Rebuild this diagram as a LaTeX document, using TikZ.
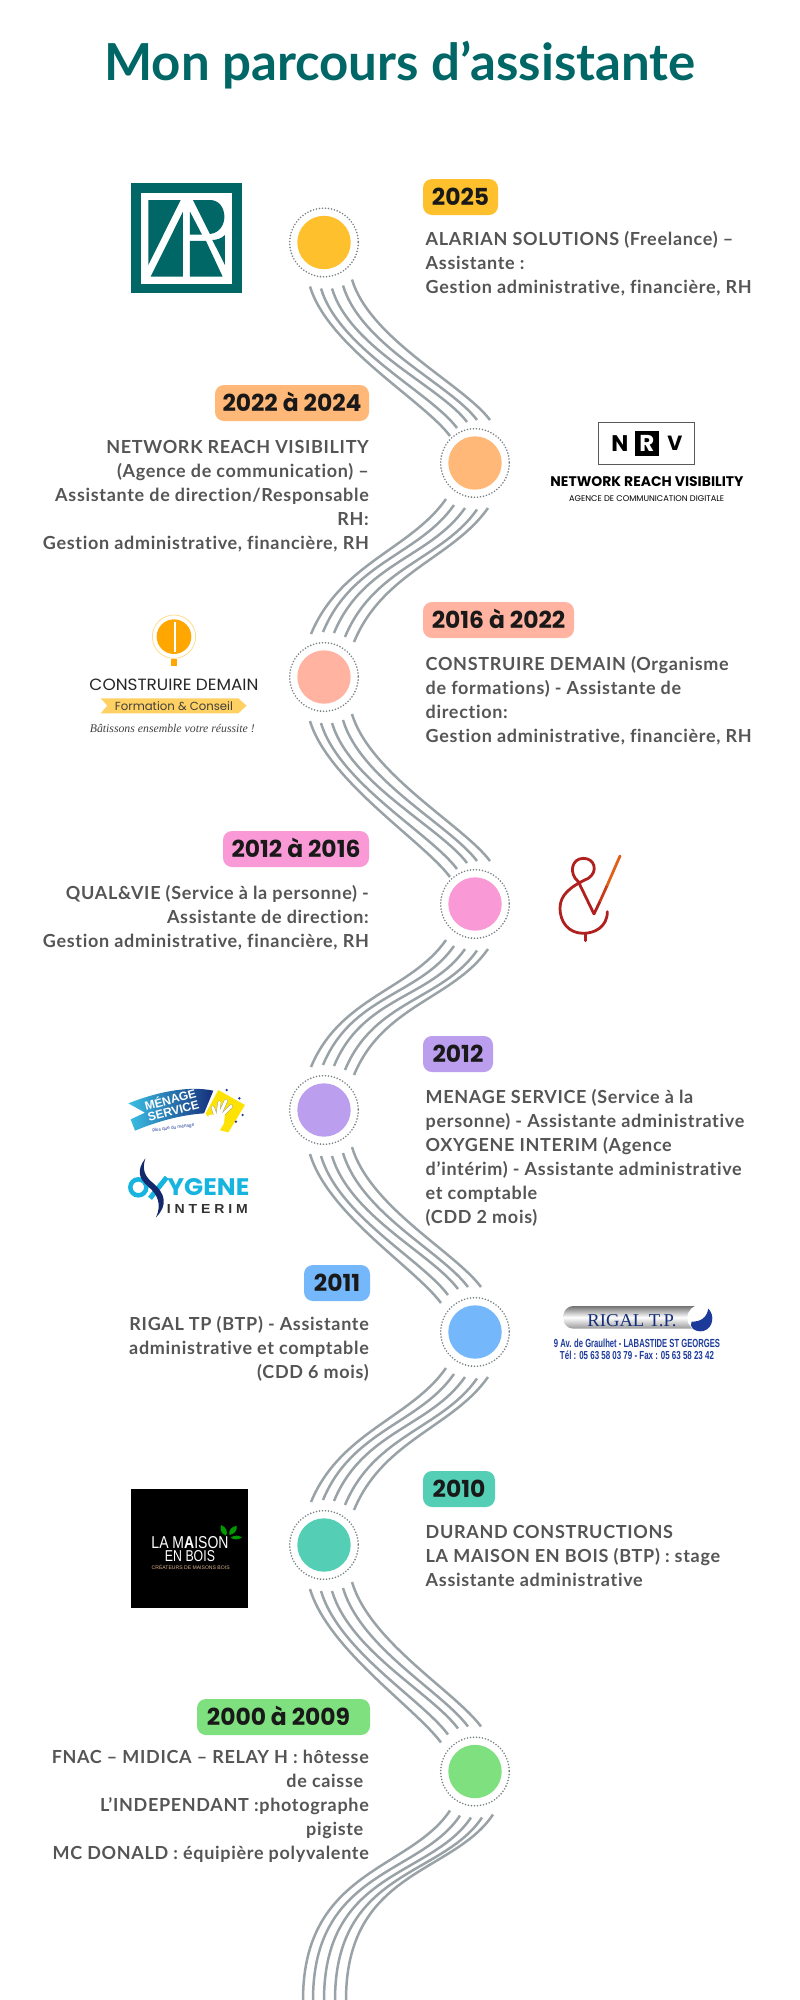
\documentclass[tikz,border=0pt]{standalone}
\usepackage{fontspec}
\usetikzlibrary{calc,shapes.geometric}
\setmainfont{Lato}
\newfontfamily\bodyf{Lato}[LetterSpace=3.8,Ligatures=CommonOff]
\newfontfamily\yearf{Poppins}
\newfontfamily\logof{Poppins}
\newfontfamily\sansf{Liberation Sans}
\newfontfamily\seriff{Liberation Serif}
\definecolor{teal1}{HTML}{006666}
\definecolor{bodyc}{HTML}{555555}
\definecolor{linec}{HTML}{99A2A7}
\definecolor{cA}{HTML}{FFC02E}
\definecolor{cB}{HTML}{FFB877}
\definecolor{cC}{HTML}{FFB3A0}
\definecolor{cD}{HTML}{F99AD6}
\definecolor{cE}{HTML}{BB9EEE}
\definecolor{cF}{HTML}{74B7FA}
\definecolor{cG}{HTML}{54CFB6}
\definecolor{cH}{HTML}{7FE07F}
\definecolor{navy}{HTML}{1C3A99}
\definecolor{cyanox}{HTML}{18B4E0}
\definecolor{redamp}{HTML}{B0201E}
\definecolor{midamp}{HTML}{C83C1C}
\definecolor{orgamp}{HTML}{E0601A}
\newcommand{\fitw}[2]{\resizebox{#1pt}{!}{#2}}
\newcommand{\fitwh}[3]{\resizebox{#1pt}{#2pt}{#3}}
\tikzset{
  wave/.style={draw=linec,line width=2.5pt},
  ring/.style={draw=linec!80!black,line width=1.8pt,dash pattern=on 0pt off 3.02pt,line cap=round},
  dot/.style={circle,inner sep=0pt,minimum size=53.4pt},
  pill/.style={rounded corners=9pt},
  yearlabel/.style={font=\yearf\bfseries\fontsize{23.4}{26}\selectfont,text=black!90,inner sep=0pt,anchor=base},
  bodyr/.style={font=\bodyf\bfseries\fontsize{18}{24}\selectfont,text=bodyc,inner sep=0pt,anchor=base east},
  bodyl/.style={font=\bodyf\bfseries\fontsize{18}{24}\selectfont,text=bodyc,inner sep=0pt,anchor=base west},
  logotext/.style={inner sep=0pt},
}
\begin{document}
\begin{tikzpicture}[x=1pt,y=-1pt]
\useasboundingbox (0,0) rectangle (800,2000);
% title
\node[font=\bfseries\fontsize{51}{60}\selectfont,text=teal1,inner sep=0pt,anchor=base] (title) at (400,80) {Mon parcours d’assistante};
% circles
\foreach \n/\cx/\cy/\col in {c1/324/242.5/cA,c2/475/463/cB,c3/324/677/cC,c4/475/904/cD,c5/324/1110/cE,c6/475/1332/cF,c7/324/1545/cG,c8/475/1771.5/cH}{
  \node[dot,fill=\col] (\n) at (\cx,\cy) {};
  \draw[ring] (\n.center) circle (34.3);
}
% waves down-right
\foreach \A/\B/\sh/\sv in {c1/c2/9/2,c3/c4/9/2,c5/c6/0/0,c7/c8/0/0}{
  \foreach \ax/\ay/\bx/\by in {-14/44/-34/-29,-3/46/-27/-37,8/46/-17/-43,19/43/-7/-45,28/37/6/-45}{
    \draw[wave] ($(\A)+(\ax,\ay)$) .. controls +(18,60) and +(-26,-35) .. ($(\B)+(\bx+\sh,\by+\sv)$);
  }
}
% waves down-left
\foreach \A/\B in {c2/c3,c4/c5,c6/c7}{
  \foreach \ax/\ay/\bx/\by in {-29/36/-13/-43,-21/42/-1/-45,-10/45/10/-44,2/46.5/21/-40,13/45/30/-35}{
    \draw[wave] ($(\A)+(\ax,\ay)$) .. controls +(-35,50) and +(29,-70) .. ($(\B)+(\bx,\by)$);
  }
}
% last wave, leaving the picture
\foreach \ax/\ay/\bx [count=\i] in {-25/39/303,-15/44/313,-4/46/324,7/46/335,18/43/346}{
  \coordinate (end\i) at (\bx,2000);
  \draw[wave] ($(c8)+(\ax,\ay)$) .. controls +(-40,60) and +(0,-130) .. (end\i);
}
% pills
\foreach \n/\xa/\ya/\xb/\yb/\col in {p1/423/179/498/215/cA,p2/215/385/369/421/cB,p3/423/602/574/638/cC,p4/223/831/369/867/cD,p5/423/1036/493/1072/cE,p6/304/1265/370/1301/cF,p7/423/1471/495/1507/cG,p8/197/1699/370/1735/cH}{
  \fill[pill,fill=\col] (\xa,\ya) rectangle (\xb,\yb);
}
\node[yearlabel] (y1) at (460.5,205) {2025};
\node[yearlabel] (y2) at (292,411) {2022 à 2024};
\node[yearlabel] (y3) at (498.5,628) {2016 à 2022};
\node[yearlabel] (y4) at (296,857) {2012 à 2016};
\node[yearlabel] (y5) at (458,1062) {2012};
\node[yearlabel] (y6) at (337,1291) {2011};
\node[yearlabel] (y7) at (459,1497) {2010};
\node[yearlabel] (y8) at (278.5,1725) {2000 à 2009};
% body texts
\node[bodyl] (t1) at (425.5,245) {\begin{tabular}[t]{@{}l@{}}ALARIAN SOLUTIONS (Freelance) –\\Assistante :\\Gestion administrative, financière, RH\end{tabular}};
\node[bodyr] (t2) at (369,453) {\begin{tabular}[t]{@{}r@{}}NETWORK REACH VISIBILITY\\(Agence de communication) –\\Assistante de direction/Responsable\\RH:\\Gestion administrative, financière, RH\end{tabular}};
\node[bodyl] (t3) at (425.5,670) {\begin{tabular}[t]{@{}l@{}}CONSTRUIRE DEMAIN (Organisme\\de formations) - Assistante de\\direction:\\Gestion administrative, financière, RH\end{tabular}};
\node[bodyr] (t4) at (369,899) {\begin{tabular}[t]{@{}r@{}}QUAL\&VIE (Service à la personne) -\\Assistante de direction:\\Gestion administrative, financière, RH\end{tabular}};
\node[bodyl] (t5) at (425.5,1103) {\begin{tabular}[t]{@{}l@{}}MENAGE SERVICE (Service à la\\personne) - Assistante administrative\\OXYGENE INTERIM (Agence\\d’intérim) - Assistante administrative\\et comptable\\(CDD 2 mois)\end{tabular}};
\node[bodyr] (t6) at (369,1330) {\begin{tabular}[t]{@{}r@{}}RIGAL TP (BTP) - Assistante\\administrative et comptable\\(CDD 6 mois)\end{tabular}};
\node[bodyl] (t7) at (425.5,1538) {\begin{tabular}[t]{@{}l@{}}DURAND CONSTRUCTIONS\\LA MAISON EN BOIS (BTP) : stage\\Assistante administrative\end{tabular}};
\node[bodyr] (t8) at (369,1763) {\begin{tabular}[t]{@{}r@{}}FNAC – MIDICA – RELAY H : hôtesse\\de caisse\hspace*{5.5pt}\\L’INDEPENDANT :photographe\\pigiste\hspace*{5.5pt}\\MC DONALD : équipière polyvalente\end{tabular}};
% ---- logo AR
\begin{scope}[shift={(100,160)},x=0.3333pt,y=-0.3333pt]
\fill[teal1] (94,68) rectangle (425,400);
\fill[white] (123,98) rectangle (396,371);
\fill[teal1] (145,120) -- (242,120) -- (145,315) -- cycle;
\fill[teal1] (152,350) -- (249,350) -- (249,155) -- cycle;
\fill[teal1] (270,350) -- (368,350) -- (318,243) -- (270,243) -- cycle;
\fill[teal1] (270,155) -- (270,224) -- (306,224) -- cycle;
\fill[teal1] (279,120) -- (330,120) .. controls (385,120) and (390,215) .. (330,222) -- cycle;
\fill[teal1] (375,225) -- (375,315) -- (337,240) .. controls (350,240) and (365,235) .. (375,225) -- cycle;
\end{scope}
% ---- logo NRV
\begin{scope}[shift={(530,400)},x=0.3333pt,y=-0.3333pt]
\draw[draw=black!65,line width=1pt] (205,67) rectangle (494,193);
\fill[black] (315,92) rectangle (388,168);
\node[logotext,font=\logof\bfseries] (nrvN) at (270,130) {\fitw{17}{N}};
\node[logotext,font=\logof\bfseries,text=white] (nrvR) at (351,130) {\fitw{15}{R}};
\node[logotext,font=\logof\bfseries] (nrvV) at (435,130) {\fitw{15}{V}};
\node[logotext,font=\logof\bfseries] (nrvA) at (351,245) {\fitw{193}{NETWORK REACH VISIBILITY}};
\node[logotext,font=\logof] (nrvB) at (350,297) {\fitw{155}{AGENCE DE COMMUNICATION DIGITALE}};
\end{scope}
% ---- logo Construire Demain
\begin{scope}[shift={(70,600)},x=0.3333pt,y=-0.3333pt]
\draw[draw=cA!60,line width=0.7pt] (312,110) circle (65);
\fill[orange!70!yellow] (312,110) circle (52);
\fill[orange!70!yellow] (302,176) rectangle (322,199);
\draw[white,line width=1.2pt] (315,65) -- (315,156);
\node[logotext,font=\logof,text=black!85] (cd1) at (312,253) {\fitwh{169}{11.5}{CONSTRUIRE DEMAIN}};
\fill[cA!75] (92,295) -- (505,295) -- (530,317) -- (505,340) -- (92,340) -- (112,317) -- cycle;
\node[logotext,font=\logof,text=black!75] (cd2) at (312,317) {\fitw{118}{Formation \& Conseil}};
\node[logotext,font=\seriff\itshape,text=black!75] (cd3) at (307,385) {\fitw{165}{Bâtissons ensemble votre réussite !}};
\end{scope}
% ---- logo &V
\begin{scope}[shift={(520,830)},x=0.3333pt,y=-0.3333pt]
\draw[draw=redamp,line width=2.8pt,line cap=round,line join=round] (262,245) .. controls (262,290) and (225,310) .. (190,310) .. controls (145,310) and (120,275) .. (120,235) .. controls (120,195) and (150,170) .. (205,145) .. controls (235,125) and (225,85) .. (190,85) .. controls (155,85) and (145,130) .. (175,155) -- (222,252);
\draw[draw=redamp,line width=2.8pt,line cap=round] (197,310) -- (197,332);
\draw[draw=redamp,line width=2.8pt] (222,252) -- (240,214);
\draw[draw=midamp,line width=2.8pt] (240,214) -- (262,165);
\draw[draw=orgamp,line width=2.8pt,line cap=round] (262,165) -- (300,78);
\end{scope}
% ---- logo Menage service
\begin{scope}[shift={(110,1070)},x=0.3333pt,y=-0.3333pt]
\shade[left color=cyanox!85!white,right color=navy!80!black] (55,100) .. controls (130,70) and (230,45) .. (310,62) -- (282,130) .. controls (210,135) and (140,155) .. (75,182) -- (62,148) -- (105,128) -- cycle;
\fill[yellow!85!orange] (325,60) -- (405,105) -- (355,187) -- (318,178) -- (287,130) -- cycle;
\foreach \fx/\fy in {308/112,328/97,348/92,364/108}{
  \draw[black!45,line width=3.6pt,line cap=round] (322,150) -- (\fx,\fy);
}
\foreach \fx/\fy in {308/112,328/97,348/92,364/108}{
  \draw[white,line width=2.9pt,line cap=round] (322,150) -- (\fx,\fy);
}
\fill[white] (288,182) -- (296,135) -- (345,130) -- (342,160) -- (326,186) -- cycle;
\foreach \sx/\sy in {350/60,388/85,398/135,378/155}{\fill[navy] (\sx,\sy) circle (4);}
\node[logotext,font=\sansf\bfseries\fontsize{12}{11.5}\selectfont,text=white,rotate=15,align=center] (ms1) at (185,103) {MÉNAGE\\SERVICE};
\node[logotext,font=\sansf,text=navy,rotate=7] (ms3) at (190,174) {\fitw{42}{plus que du ménage}};
\end{scope}
% ---- logo Oxygene
\begin{scope}[shift={(110,1070)},x=0.3333pt,y=-0.3333pt]
\draw[cyanox,line width=4.5pt] (85,352) circle (24);
\draw[cyanox,line width=5pt] (120,385) -- (170,322);
\fill[navy!70!black] (106,265) .. controls (80,300) and (85,325) .. (115,350) .. controls (145,375) and (155,405) .. (138,442) .. controls (175,405) and (165,370) .. (130,340) .. controls (105,320) and (95,300) .. (106,265) -- cycle;
\node[logotext,font=\logof\bfseries,text=cyanox] (ox1) at (295,352) {\fitwh{82}{17}{YGENE}};
\node[logotext,font=\sansf\bfseries,text=black!80] (ox2) at (292,418) {\fitwh{81}{9}{I N T E R I M}};
\end{scope}
% ---- logo Rigal
\begin{scope}[shift={(540,1290)},x=0.3333pt,y=-0.3333pt]
\shade[top color=black!55,bottom color=black!40,middle color=white,rounded corners=10pt] (70,48) rectangle (490,116);
\fill[white] (482,84) circle (40);
\fill[navy] (505,56) .. controls (525,75) and (520,115) .. (490,123) .. controls (465,128) and (445,110) .. (455,95) .. controls (480,95) and (500,85) .. (505,56) -- cycle;
\node[logotext,font=\seriff,text=navy!80!black] (rg1) at (276,93) {\fitwh{89}{12}{RIGAL T.P.}};
\node[logotext,font=\sansf\bfseries,text=navy] (rg2) at (291,160) {\fitwh{166}{8.5}{9 Av. de Graulhet - LABASTIDE ST GEORGES}};
\node[logotext,font=\sansf\bfseries,text=navy] (rg3) at (291,197) {\fitwh{154}{8.5}{Tél : 05 63 58 03 79 - Fax : 05 63 58 23 42}};
\end{scope}
% ---- logo La Maison en Bois
\begin{scope}[shift={(120,1480)},x=0.3333pt,y=-0.3333pt]
\fill[black] (33,27) rectangle (385,385);
\node[logotext,font=\sansf,text=white] (mb1) at (210,188) {\fitwh{77}{12}{LA M{\bfseries A}ISON}};
\node[logotext,font=\sansf,text=white] (mb2) at (210,228) {\fitwh{50}{11}{EN BOIS}};
\node[logotext,font=\sansf,text=brown!60!white] (mb3) at (212,261) {\fitwh{78}{4.5}{CRÉATEURS DE MAISONS BOIS}};
\fill[green!60!black] (318,167) .. controls (300,160) and (300,145) .. (303,135) .. controls (318,140) and (325,155) .. (318,167) -- cycle;
\fill[green!60!black] (328,165) .. controls (325,150) and (335,140) .. (350,137) .. controls (352,150) and (345,162) .. (328,165) -- cycle;
\fill[green!60!black] (332,173) .. controls (342,165) and (355,165) .. (366,172) .. controls (355,180) and (342,180) .. (332,173) -- cycle;
\end{scope}
\end{tikzpicture}
\end{document}
